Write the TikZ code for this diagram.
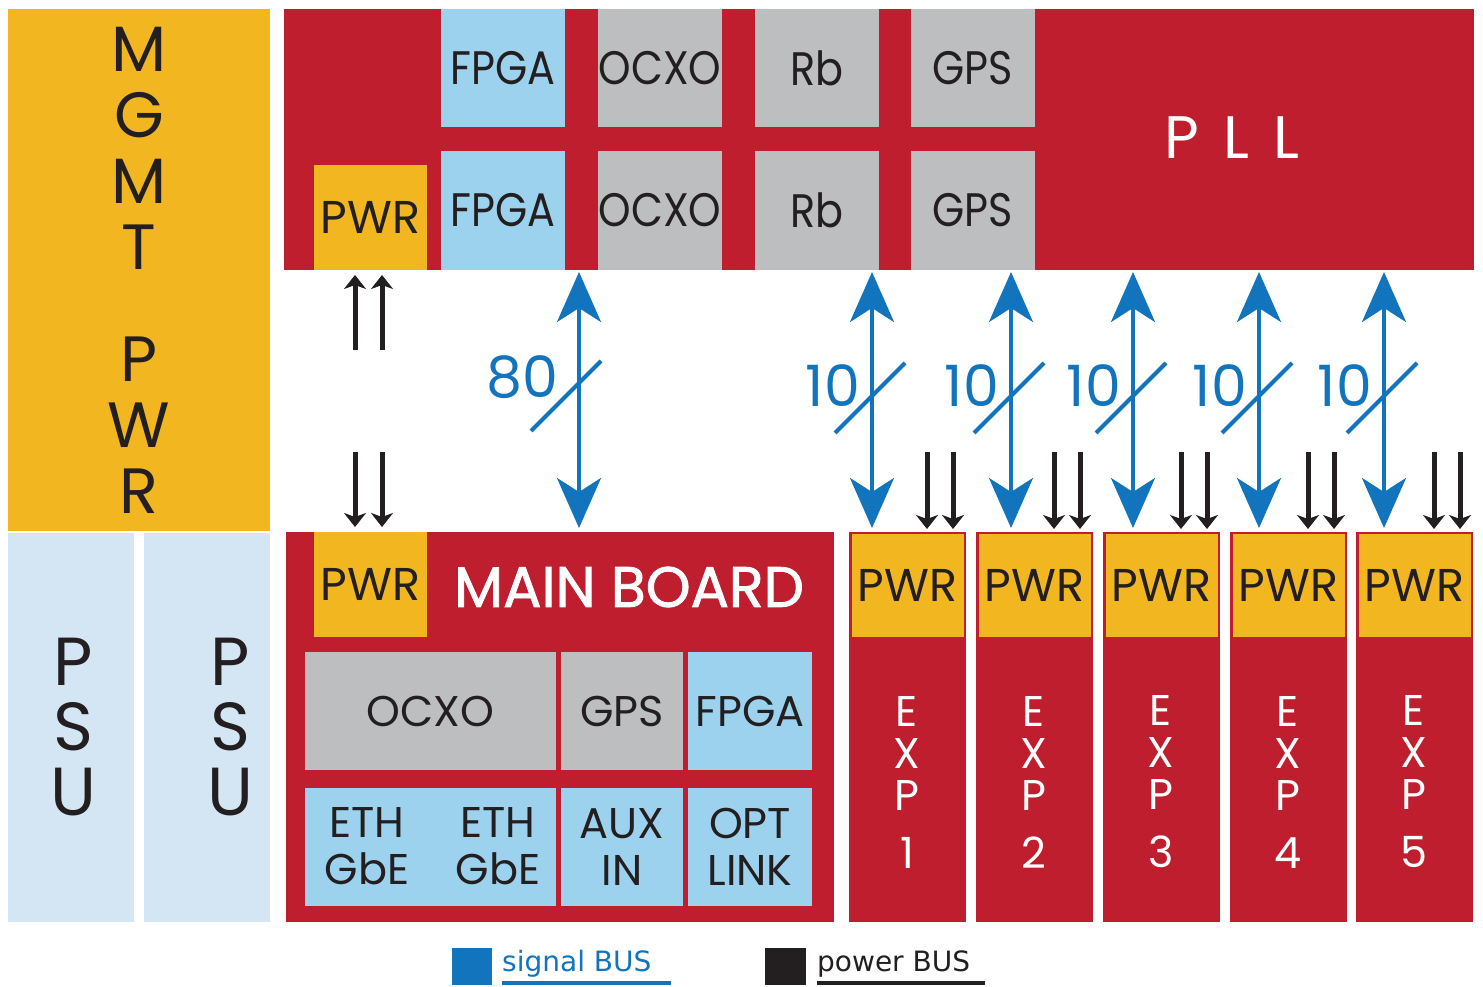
\documentclass[tikz,border=0pt]{standalone}
\usepackage{fontspec}
\setmainfont{Poppins}
\newfontfamily\narfont[FakeStretch=0.88]{Poppins}
\newfontfamily\legfont{DejaVu Sans}
\newfontfamily\mbfont[FakeBold=1.5]{Poppins}
\usetikzlibrary{arrows.meta}
\definecolor{pllred}{HTML}{BE1E2D}
\definecolor{pwrorange}{HTML}{F2B621}
\definecolor{fpgablue}{HTML}{9DD2EE}
\definecolor{ocxogray}{HTML}{BCBEC0}
\definecolor{psublue}{HTML}{D4E6F4}
\definecolor{busblue}{HTML}{1274BD}
\definecolor{busblack}{HTML}{231F20}
\tikzset{
  blk/.style 2 args={anchor=north west, inner sep=0pt, outer sep=0pt, minimum width=#1pt, minimum height=#2pt, align=center, text=busblack},
  redblk/.style={fill=pllred},
  pwrblk/.style={fill=pwrorange},
  fpgablk/.style={fill=fpgablue},
  grayblk/.style={fill=ocxogray},
  psublk/.style={fill=psublue},
  midtxt/.style={font=\narfont\fontsize{47}{47}\selectfont},
  smtxt/.style={font=\fontsize{43}{47}\selectfont, align=center, text=busblack},
  pwrtxt/.style={font=\fontsize{46}{46}\selectfont},
  psutxt/.style={align=center, text=busblack, font=\fontsize{68}{65}\selectfont},
  sigbus/.style={busblue, line width=4pt, {Stealth[length=50pt,width=44pt,inset=14pt]}-{Stealth[length=50pt,width=44pt,inset=14pt]}, shorten <=2pt, shorten >=4pt},
  pwrbus/.style={busblack, line width=5pt, -{Stealth[length=14pt,width=22pt,inset=4pt]}, shorten >=5pt},
  slash/.style={busblue, line width=4pt},
  bustxt/.style={text=busblue, font=\fontsize{57}{57}\selectfont, inner sep=0pt},
}
\begin{document}
\begin{tikzpicture}[x=1pt,y=-1pt]
\useasboundingbox (0,0) rectangle (1483,987);
\node[blk={262}{522}, pwrblk, font=\fontsize{64}{66}\selectfont] (mgmt) at (8,9) {M\\G\\M\\T\\[46pt]P\\W\\R};
\node[blk={126}{389}, psublk] (psuA) at (8,533) {};
\node[blk={126}{389}, psublk] (psuB) at (144,533) {};
\node[psutxt] (psuAtxt) at (73,727) {P\\S\\U};
\node[psutxt] (psuBtxt) at (230,727) {P\\S\\U};

\node[blk={1190}{261}, redblk] (pll) at (284,9) {};
\node[text=white, font=\fontsize{60}{60}\selectfont] (plltxt) at (1232,138) {P\hspace{24pt}L\hspace{24pt}L};
\node[blk={124}{118}, fpgablk, midtxt] (fpgaA) at (441,9) {FPGA};
\node[blk={124}{118}, grayblk, midtxt] (ocxoA) at (598,9) {OCXO};
\node[blk={124}{118}, grayblk, midtxt] (rbA) at (755,9) {Rb};
\node[blk={124}{118}, grayblk, midtxt] (gpsA) at (911,9) {GPS};
\node[blk={124}{119}, fpgablk, midtxt] (fpgaB) at (441,151) {FPGA};
\node[blk={124}{119}, grayblk, midtxt] (ocxoB) at (598,151) {OCXO};
\node[blk={124}{119}, grayblk, midtxt] (rbB) at (755,151) {Rb};
\node[blk={124}{119}, grayblk, midtxt] (gpsB) at (911,151) {GPS};
\node[blk={113}{105}, pwrblk, pwrtxt] (pwrA) at (314,165) {PWR};

\node[blk={548}{390}, redblk] (mb) at (286,532) {};
\node[blk={113}{105}, pwrblk, pwrtxt] (pwrB) at (314,532) {PWR};
\node[text=white, font=\mbfont\fontsize{57}{57}\selectfont] (mbtxt) at (629,587) {MAIN BOARD};
\node[blk={251}{118}, grayblk, smtxt] (ocxoM) at (305,652) {OCXO};
\node[blk={122}{118}, grayblk, smtxt] (gpsM) at (561,652) {GPS};
\node[blk={124}{118}, fpgablk, smtxt] (fpgaM) at (688,652) {FPGA};
\node[blk={251}{118}, fpgablk] (eth) at (305,788) {};
\node[smtxt] (ethA) at (367,846) {ETH\\GbE};
\node[smtxt] (ethB) at (498,846) {ETH\\GbE};
\node[blk={122}{118}, fpgablk, smtxt] (aux) at (561,788) {AUX\\IN};
\node[blk={124}{118}, fpgablk, smtxt] (opt) at (688,788) {OPT\\LINK};

\foreach \i/\x in {1/849, 2/976, 3/1103, 4/1230, 5/1356} {
  \node[blk={117}{390}, redblk] (exp\i) at (\x,532) {};
  \node[blk={112}{103}, pwrblk, pwrtxt] (pwrx\i) at (\x+2.5,534) {PWR};
  \node[text=white, align=center, font=\fontsize{43}{42}\selectfont] (expl\i) at (\x+58,782) {E\\X\\P\\[16pt]\i};
}

\draw[sigbus] (pll.south -| 579,0) -- (mb.north -| 579,0);
\draw[slash] (579,383) ++(-48,48) -- ++(70,-70);
\node[bustxt] (n80) at (522,377) {80};
\foreach \i/\bx in {1/872, 2/1011, 3/1133, 4/1259, 5/1384} {
  \draw[sigbus] (pll.south -| \bx,0) -- (exp\i.north -| \bx,0);
  \draw[slash] (\bx,396) ++(-37,37) -- ++(70,-70);
  \node[bustxt] (n10\i) at (\bx-39,386) {10};
}

\foreach \px in {355, 382} {
  \draw[pwrbus] (\px,350) -- (pwrA.south -| \px,0);
  \draw[pwrbus] (\px,452) -- (pwrB.north -| \px,0);
}
\foreach \i/\x in {1/849, 2/976, 3/1103, 4/1230, 5/1356} {
  \draw[pwrbus] (\x+78,452) -- (pwrx\i.north -| \x+78,0);
  \draw[pwrbus] (\x+104,452) -- (pwrx\i.north -| \x+104,0);
}

\node[blk={40}{37}, fill=busblue] (sigkey) at (452,948) {};
\node[anchor=west, inner sep=0pt, text=busblue, font=\legfont\fontsize{28}{28}\selectfont] (sigtxt) at (502,964) {signal BUS};
\draw[busblue, line width=4pt] (502,983) -- (671,983);
\node[blk={41}{37}, fill=busblack] (powkey) at (765,948) {};
\node[anchor=west, inner sep=0pt, text=busblack, font=\legfont\fontsize{28}{28}\selectfont] (powtxt) at (817,964) {power BUS};
\draw[busblack, line width=4pt] (817,983) -- (985,983);
\end{tikzpicture}
\end{document}
